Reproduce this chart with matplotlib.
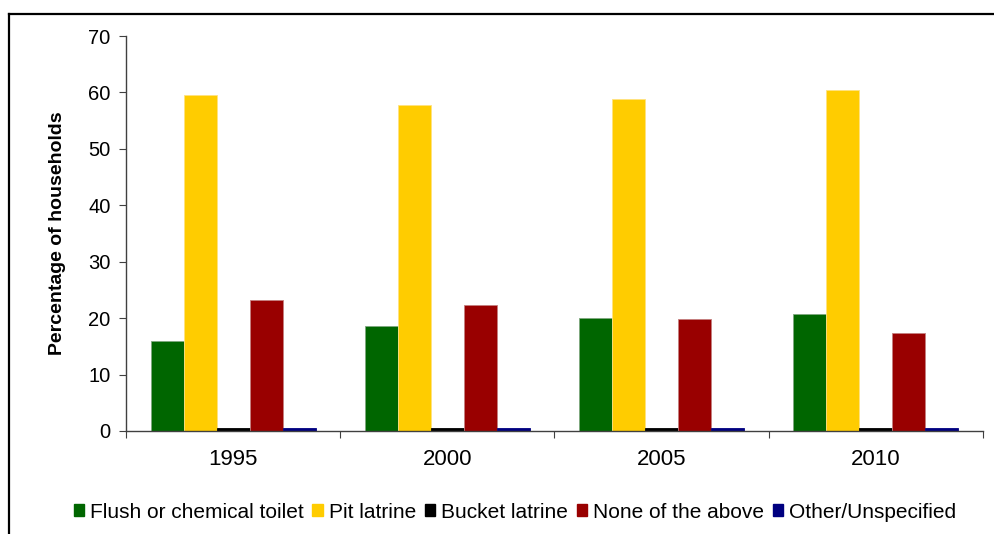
import numpy as np
import matplotlib
matplotlib.use("Agg")
import matplotlib.pyplot as plt
from matplotlib.patches import Patch
from matplotlib.lines import Line2D

plt.rcParams['font.family'] = ['Liberation Sans', 'DejaVu Sans']

years = ["1995", "2000", "2005", "2010"]
series_names = ["Flush or chemical toilet", "Pit latrine", "Bucket latrine",
                "None of the above", "Other/Unspecified"]
flush = [15.9, 18.6, 20.0, 20.7]
pit = [59.5, 57.7, 58.8, 60.4]
bucket = [0.5, 0.5, 0.5, 0.5]
none_above = [23.2, 22.3, 19.8, 17.3]
other = [0.5, 0.5, 0.5, 0.5]
series_values = [flush, pit, bucket, none_above, other]
colors = ["#006600", "#FFCC00", "#000000", "#990000", "#000080"]
edges = ["#7fa87f", "#ffe27f", "#000000", "#c47f7f", "#000080"]
y_ticks = [0, 10, 20, 30, 40, 50, 60, 70]

fig = plt.figure(figsize=(9.95, 5.34), dpi=100)
ax = fig.add_axes([126 / 995, 103 / 534, 857 / 995, 395 / 534])

x = np.arange(len(years))
bw = 0.154
n = len(series_values)
for i, (vals, c, ec) in enumerate(zip(series_values, colors, edges)):
    offs = (i - (n - 1) / 2) * bw
    ax.bar(x + offs, vals, width=bw, color=c, edgecolor=ec, linewidth=0.6, zorder=2)

ax.set_xlim(-0.5, len(years) - 0.5)
ax.set_ylim(0, 70)
ax.set_yticks(y_ticks)
ax.set_yticklabels([str(t) for t in y_ticks], fontsize=14.5)

# category boundaries carry the ticks; year labels sit at group centres
ax.set_xticks(np.arange(len(years) + 1) - 0.5)
ax.set_xticklabels([""] * (len(years) + 1))
ax.set_xticks(x, minor=True)
ax.set_xticklabels(years, minor=True, fontsize=16)
ax.tick_params(axis='x', which='minor', length=0, pad=13)
ax.tick_params(axis='x', which='major', length=5, direction='out', color='#404040')
ax.tick_params(axis='y', length=5, direction='out', color='#404040', pad=6)

for s in ['top', 'right']:
    ax.spines[s].set_visible(False)
for s in ['left', 'bottom']:
    ax.spines[s].set_color('#404040')
    ax.spines[s].set_linewidth(1.0)

ax.set_ylabel("Percentage of households", fontsize=14, fontweight='bold',
              family=['Liberation Sans Narrow', 'Liberation Sans', 'DejaVu Sans'],
              labelpad=16)

handles = [Patch(facecolor=c, edgecolor=c) for c in colors]
fig.legend(handles, series_names, loc='center', bbox_to_anchor=(515 / 995, 22 / 534),
           ncol=5, frameon=False, fontsize=15, handlelength=0.5, handleheight=0.5,
           handletextpad=0.3, columnspacing=0.4, borderpad=0)

# outer frame along the left and top edges
fig.add_artist(Line2D([8.5 / 995, 8.5 / 995], [0, 520.5 / 534], color='black',
                      linewidth=1.6, transform=fig.transFigure))
fig.add_artist(Line2D([8.5 / 995, 1.0], [520.5 / 534, 520.5 / 534], color='black',
                      linewidth=1.6, transform=fig.transFigure))

fig.savefig("out.png", dpi=100)
